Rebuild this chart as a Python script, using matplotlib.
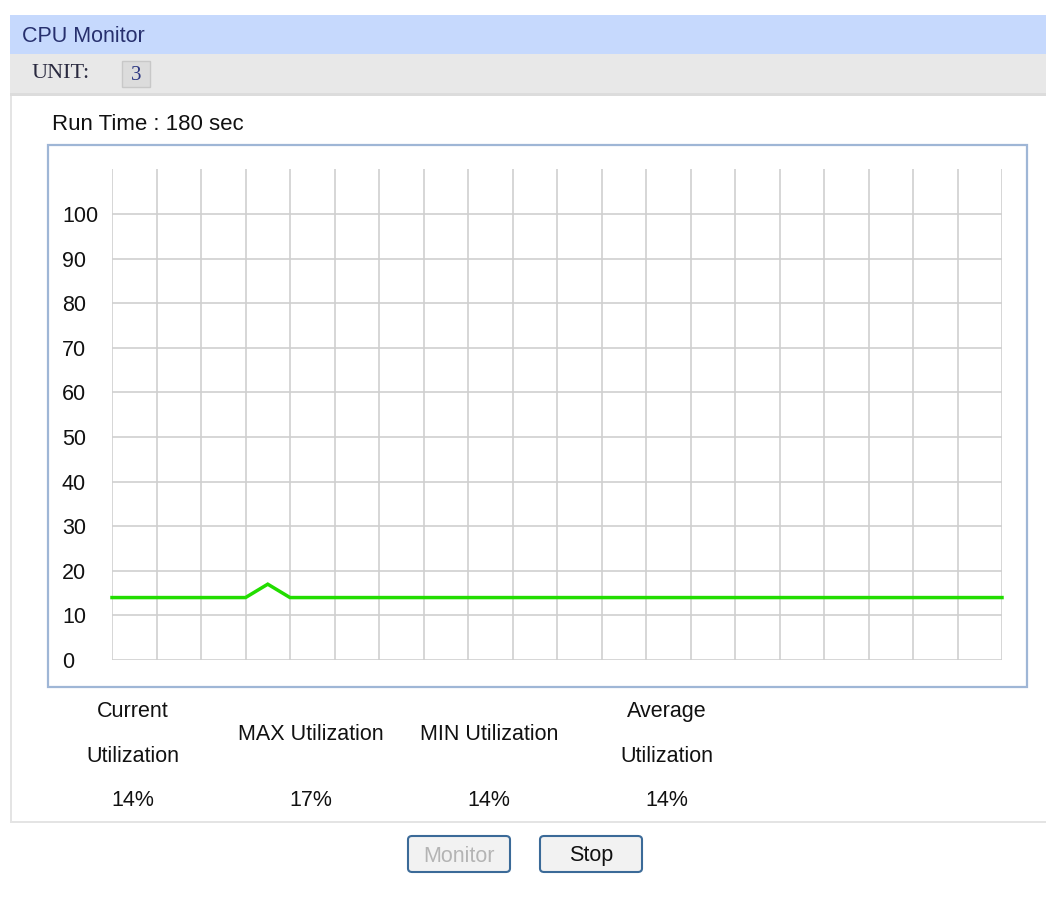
import matplotlib
matplotlib.use("Agg")
import matplotlib.pyplot as plt
from matplotlib.patches import Rectangle, FancyBboxPatch

plt.rcParams['font.family'] = ['Liberation Sans', 'DejaVu Sans']

# cpu usage samples, one every 4.5 sec over the run
run_time = 180
cpu_usage = [14, 14, 14, 14, 14, 14, 14, 17, 14, 14,
             14, 14, 14, 14, 14, 14, 14, 14, 14, 14,
             14, 14, 14, 14, 14, 14, 14, 14, 14, 14,
             14, 14, 14, 14, 14, 14, 14, 14, 14, 14,
             14]
y_ticks = [0, 10, 20, 30, 40, 50, 60, 70, 80, 90, 100]
stat_names = ["Current\n\nUtilization", "MAX Utilization", "MIN Utilization", "Average\n\nUtilization"]
stat_values = [14, 17, 14, 14]
unit_id = 3

W, H = 1046, 898
fig = plt.figure(figsize=(W / 100, H / 100), dpi=100)
fig.patch.set_facecolor("white")


def px(x, y):
    # pixel (top-left origin) -> figure fraction
    return x / W, 1 - y / H


def box(x0, y0, x1, y1, **kw):
    fx0, fy1 = px(x0, y1)
    fig.patches.append(Rectangle((fx0, fy1), (x1 - x0) / W, (y1 - y0) / H,
                                 transform=fig.transFigure, **kw))


def text(x, y, s, **kw):
    fx, fy = px(x, y)
    fig.text(fx, fy, s, **kw)


# header bars
box(10, 15, W, 54, facecolor="#c6d9fd", edgecolor="none")
box(10, 54, W, 93, facecolor="#e8e8e8", edgecolor="none")
box(10, 93, W, 96, facecolor="#dcdcdc", edgecolor="none")
text(22, 36, "CPU Monitor", fontsize=15.5, color="#27306e", va="center")
text(32, 74, "UNIT:", fontsize=16, family="Liberation Serif", color="#2a2a40", va="center")
box(122, 61, 150, 87, facecolor="#dcdcdc", edgecolor="#c8c8c8", linewidth=1)
text(136, 75, str(unit_id), fontsize=15, family="Liberation Serif", color="#2a3580",
     ha="center", va="center")

# panel border
box(10, 96, 12, 822, facecolor="#e4e4e4", edgecolor="none")
box(10, 821, W, 823, facecolor="#e4e4e4", edgecolor="none")

text(52, 125, "Run Time : %d sec" % run_time, fontsize=16, color="#111111", va="center")

# chart frame
box(48, 145, 1027, 687, facecolor="none", edgecolor="#9fb6d6", linewidth=1.6)

# plot area: y 0 at 660px, 100 at 214px, top at 110
y_top = 660 - 110 * (660 - 214) / 100
l, b = px(112, 660)
ax = fig.add_axes([l, b, (1002 - 112) / W, (660 - y_top) / H])
ax.set_xlim(0, len(cpu_usage) - 1)
ax.set_ylim(0, 110)
for s in ax.spines.values():
    s.set_visible(False)
ax.set_facecolor("none")
for xv in range(0, len(cpu_usage), 2):
    ax.axvline(xv, color="#cfcfcf", linewidth=1.2, zorder=1)
for yv in y_ticks:
    ax.axhline(yv, color="#cfcfcf", linewidth=1.2, zorder=1)
ax.plot(range(len(cpu_usage)), cpu_usage, color="#22dd00", linewidth=2.5,
        solid_joinstyle="miter", zorder=3, clip_on=False)
ax.set_xticks([])
ax.set_yticks(y_ticks)
ax.set_yticklabels([str(v) for v in y_ticks], fontsize=15.5, color="#111111", ha="left")
ax.tick_params(axis="y", length=0, pad=36)

# utilization summary
stat_x = [133, 311, 489, 667]
for sx, name, val in zip(stat_x, stat_names, stat_values):
    text(sx, 734, name, fontsize=15.5, color="#111111", ha="center", va="center",
         linespacing=1.12)
    text(sx, 801, "%d%%" % val, fontsize=15.5, color="#111111", ha="center", va="center")

# buttons
for x0, label, col in [(408, "Monitor", "#b4b4b4"), (540, "Stop", "#111111")]:
    fx0, fy0 = px(x0, 872)
    fig.patches.append(FancyBboxPatch((fx0, fy0), 102 / W, 36 / H,
                                      boxstyle="round,pad=0,rounding_size=0.004",
                                      transform=fig.transFigure, facecolor="#f2f2f2",
                                      edgecolor="#3b6a98", linewidth=1.5))
    text(x0 + 51, 856, label, fontsize=15.5, color=col, ha="center", va="center")

fig.savefig("out.png", dpi=100)
